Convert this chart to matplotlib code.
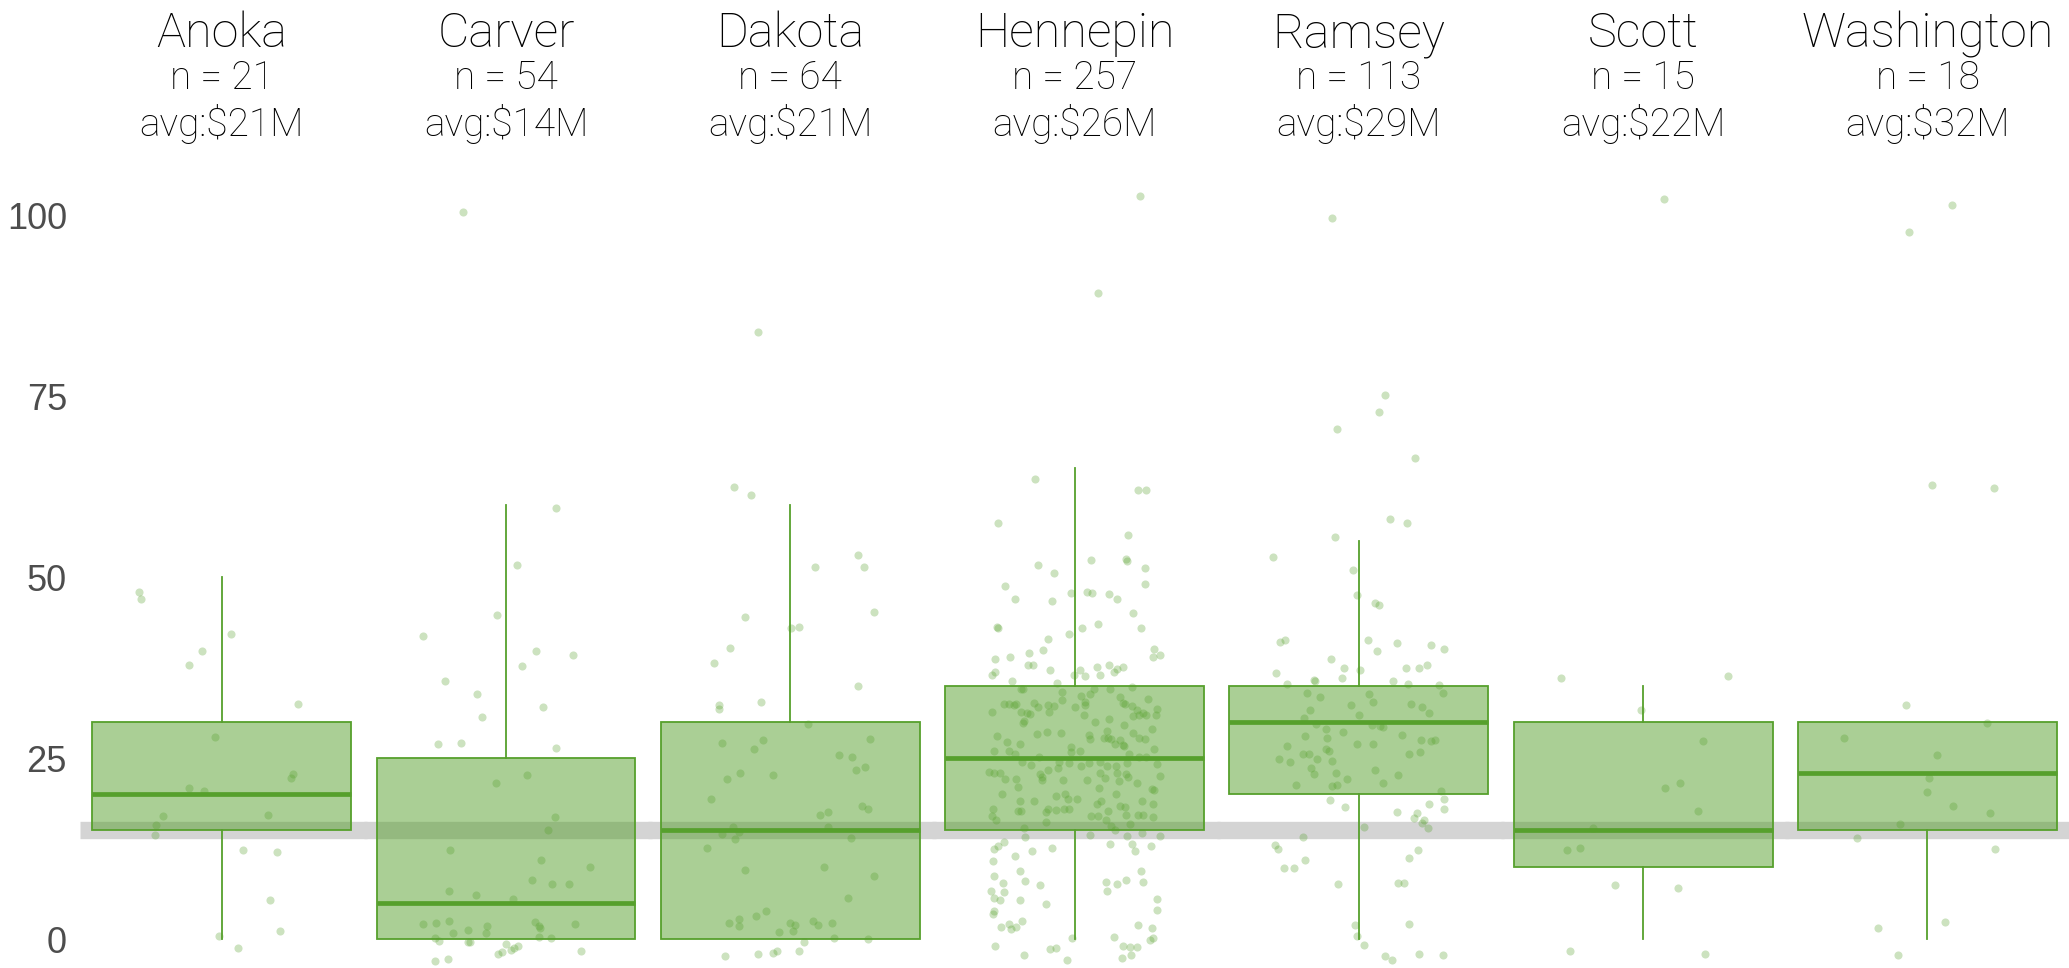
import numpy as np
import matplotlib
matplotlib.use("Agg")
import matplotlib.pyplot as plt
from matplotlib.transforms import blended_transform_factory

# ---------------- data ----------------
counties = ['Anoka', 'Carver', 'Dakota', 'Hennepin', 'Ramsey', 'Scott', 'Washington']
n_obs = [21, 54, 64, 257, 113, 15, 18]
avg_m = [21, 14, 21, 26, 29, 22, 32]

whislo = [0, 0, 0, 0, 0, 0, 0]
q1 = [15, 0, 0, 15, 20, 10, 15]
med = [20, 5, 15, 25, 30, 15, 23]
q3 = [30, 25, 30, 35, 35, 30, 30]
whishi = [50, 60, 60, 65, 55, 35, 30]

ref_line = 15

vals_anoka = [47.97, 46.96, 42.2, 39.8, 37.8, 32.5, 27.85, 22.8, 22.3, 20.86, 20.5, 17.0, 17.2, 15.75,
              14.4, 12.3, 12.06, 5.39, 1.15, 0.41, -1.24]
jit_anoka = [-0.318, -0.311, 0.036, -0.075, -0.125, 0.296, -0.026, 0.274, 0.268, -0.126, -0.07, -0.226,
             0.18, -0.254, -0.256, 0.082, 0.214, 0.186, 0.226, -0.009, 0.062]

vals_carver = [100.4, 59.6, 51.7, 44.7, 41.85, 39.8, 39.3, 37.75, 35.6, 33.9, 32.1, 30.7, 27.0, 27.1, 26.4,
               22.6, 21.6, 16.9, 15.0, 12.3, 10.9, 9.94, 8.15, 7.6, 7.64, 6.68, 6.08, 5.48, 2.03, 2.16, 2.53,
               1.84, 2.3, 1.84, 2.12, 0.87, 1.2, 0.87, 0.18, -0.32, -0.46, 0.23, 0.18, -0.69, -0.97, -1.47,
               -1.84, -2.03, -1.66, -3.04, -2.72, -0.4, -1.2, 1.5]
jit_carver = [-0.165, 0.193, 0.041, -0.036, -0.322, 0.117, 0.258, 0.063, -0.236, -0.11, 0.143, -0.093,
              -0.263, -0.174, 0.192, 0.082, -0.039, 0.191, 0.162, -0.218, 0.134, 0.325, 0.102, 0.177, 0.242,
              -0.222, -0.115, 0.026, -0.322, -0.271, -0.22, -0.073, 0.112, 0.128, 0.267, -0.204, -0.146,
              -0.079, -0.273, -0.259, -0.146, 0.126, 0.175, 0.0, 0.045, 0.018, -0.017, -0.03, 0.289, -0.276,
              -0.224, -0.14, 0.03, 0.13]

vals_dakota = [83.8, 62.5, 61.4, 53.0, 51.4, 51.4, 45.2, 44.5, 43.0, 43.1, 40.2, 38.1, 35.0, 32.3, 31.8,
               32.7, 29.7, 27.05, 26.3, 27.5, 27.6, 25.4, 25.2, 23.3, 23.8, 22.15, 23.0, 22.7, 19.4, 17.1,
               17.5, 18.4, 18.0, 15.5, 14.5, 13.8, 15.5, 14.0, 12.6, 9.6, 10.0, 8.7, 5.7, 3.9, 3.2, 2.2, 2.7,
               1.8, 2.2, 2.5, 1.9, 2.2, 1.0, 1.1, -0.35, 0.1, 0.0, -2.4, -2.1, -1.9, -1.6, -1.65, 14.8, 2.0]
jit_dakota = [-0.126, -0.216, -0.153, 0.26, 0.284, 0.095, 0.323, -0.175, 0.003, 0.035, -0.232, -0.294,
              0.262, -0.277, -0.277, -0.112, 0.07, -0.265, -0.14, -0.104, 0.309, 0.189, 0.24, 0.255, 0.29,
              -0.245, -0.195, -0.067, -0.305, 0.116, 0.146, 0.277, 0.299, -0.222, -0.263, -0.213, 0.147,
              0.236, -0.321, -0.173, 0.131, 0.325, 0.222, -0.093, -0.131, -0.236, -0.198, -0.2, -0.001,
              0.089, 0.108, 0.162, -0.043, 0.01, 0.052, 0.169, 0.3, -0.254, -0.124, -0.066, -0.052, 0.034,
              -0.2, 0.02]

vals_hennepin = [
    102.6, 89.3, 63.6, 62.0, 62.0, 57.5, 55.85, 52.4, 52.5, 52.2, 51.7, 50.6, 51.2, 49.1, 48.7, 46.9, 46.7,
    47.8, 47.9, 47.8, 47.7, 46.9, 45.1, 43.1, 42.9, 43.0, 43.55, 42.9, 42.2, 41.4, 39.9, 38.7, 39.0, 39.5,
    40.0, 39.0, 39.2, 37.9, 37.8, 36.9, 36.5, 37.15, 37.15, 36.5, 36.4, 37.6, 36.5, 37.8, 37.3, 36.9, 37.6,
    35.6, 35.3, 34.85, 34.6, 34.5, 34.6, 34.1, 34.5, 33.9, 33.6, 33.4, 33.2,
    31.3, 32.4, 32.4, 32.3, 32.4, 31.35, 31.2, 31.1, 32.6, 32.0, 32.3, 31.3, 32.2, 32.1, 31.0, 32.3, 32.8,
    30.4, 32.6, 32.5, 32.2, 30.8, 31.6, 30.9, 31.2, 31.0, 31.0, 31.8,
    29.8, 30.1, 28.3, 28.6, 28.4, 28.2, 27.6, 27.8, 28.8, 27.8, 27.6, 27.0, 27.5, 29.6, 26.8, 26.7, 28.4,
    27.8, 27.6, 27.2, 27.0, 26.0, 26.0, 25.5, 26.5, 25.9, 26.2, 25.1, 25.1,
    24.4, 25.1, 24.5, 24.3, 23.9, 24.3, 24.5, 23.9, 23.9, 24.3, 24.2,
    23.1, 23.0, 23.0, 22.05, 22.05, 22.8, 22.4, 22.0, 23.4, 23.6, 22.0, 23.0, 22.3, 23.0, 21.8, 22.8, 22.4,
    21.5, 22.5, 20.8,
    20.1, 20.7, 20.6, 19.8, 19.98, 19.4, 19.3, 19.1, 19.1, 17.7, 17.7, 17.6, 17.9, 17.8, 17.9, 18.6, 19.1,
    17.7, 18.4, 18.2, 18.7, 18.0, 17.0, 16.4, 17.0, 17.0, 17.1, 17.2, 17.1, 16.8, 16.1,
    15.3, 15.65, 15.9, 15.1, 14.1, 14.4, 14.2, 14.6, 14.2,
    13.4, 12.9, 12.4, 12.2, 12.6, 11.5, 10.8, 13.1, 13.1, 12.1, 12.8,
    9.4, 8.75, 7.8, 8.06, 7.5, 7.9, 7.55, 8.2, 9.35, 7.9,
    6.6, 6.7, 5.6, 5.4, 6.5, 5.4, 4.9, 5.5, 4.0, 3.9, 3.5,
    1.7, 2.1, 1.4, 1.7, 2.5, 1.9, 1.5,
    0.3, 0.2, -0.2, 0.1, -0.9, -1.4, -1.2, -2.2, -2.9, -0.9, -1.06, -1.1, -2.6, -2.2,
    33.0, 30.0, 28.0, 26.0, 24.0, 22.0, 20.0, 18.0, 16.5, 29.0, 21.0, 19.0, 25.5]
jit_hennepin = [
    0.254, 0.091, -0.152, 0.247, 0.276, -0.294, 0.206, 0.064, 0.2, 0.202, -0.143, -0.079, 0.272, 0.273,
    -0.268, -0.232, -0.086, -0.013, 0.049, 0.067, 0.134, 0.164, 0.227, -0.3, -0.296, 0.258, 0.089, 0.03,
    -0.023, -0.103, -0.122, -0.307, -0.249, -0.175, 0.307, 0.303, 0.332, -0.178, -0.162, -0.307, -0.32,
    -0.093, 0.021, -0.004, 0.039, 0.085, 0.099, 0.133, 0.164, 0.153, 0.188, -0.241, -0.066, 0.223, -0.201,
    -0.206, 0.077, -0.049, 0.137, 0.058, 0.024, 0.177, 0.282,
    -0.32, -0.274, -0.253, -0.233, -0.227, -0.206, -0.184, -0.174, -0.157, -0.142, -0.103, -0.097, -0.081,
    0.0, 0.035, 0.04, 0.04, 0.133, 0.186, 0.196, 0.222, 0.224, 0.241, 0.25, 0.263, 0.276, 0.314, 0.319,
    -0.2, -0.195, -0.144, -0.108, -0.053, 0.054, 0.061, 0.112, 0.125, 0.131, 0.142, 0.157, 0.174, 0.191,
    0.187, 0.192, 0.226, 0.25, 0.271, -0.262, -0.209, -0.312, -0.253, -0.229, -0.014, -0.013, 0.307, 0.25,
    0.276,
    -0.204, -0.137, -0.059, -0.021, 0.023, 0.054, 0.097, 0.126, 0.161, 0.202, 0.317,
    -0.329, -0.313, -0.29, -0.268, -0.227, -0.135, -0.124, -0.126, -0.101, -0.064, -0.046, 0.099, 0.116,
    0.166, 0.171, 0.2, 0.206, 0.241, 0.331, 0.093,
    0.159, 0.298, 0.306, -0.073, -0.035, -0.027, 0.008, -0.156, -0.209, -0.219, -0.206, -0.11, -0.103,
    -0.072, -0.021, 0.086, 0.102, 0.13, 0.174, 0.196, 0.304, -0.314, -0.32, -0.303, 0.063, 0.091, 0.198,
    0.244, 0.263, 0.304, -0.112,
    -0.197, 0.142, 0.215, 0.157, -0.193, 0.061, 0.202, 0.26, 0.331,
    -0.274, -0.294, -0.313, -0.165, -0.086, -0.231, -0.317, 0.138, 0.222, 0.232, 0.296,
    -0.209, -0.313, -0.277, -0.192, -0.133, 0.122, 0.164, 0.198, 0.255, 0.264,
    0.125, -0.322, -0.311, -0.29, -0.271, -0.211, -0.11, 0.318, 0.32, -0.312, -0.314,
    -0.285, -0.253, -0.244, -0.226, -0.204, 0.244, 0.299,
    0.153, 0.304, 0.29, -0.01, -0.309, -0.095, -0.072, -0.195, -0.028, 0.188, 0.214, 0.241, 0.182, 0.218,
    -0.05, 0.08, -0.3, 0.02, -0.17, 0.05, -0.28, -0.04, 0.12, 0.3, -0.22, 0.26, 0.21]

vals_ramsey = [99.6, 75.2, 72.8, 70.5, 66.4, 58.0, 57.5, 55.6, 52.8, 51.0,
               47.55, 46.4, 46.2, 41.0, 41.3, 41.35, 39.8, 40.9, 40.6, 40.0,
               38.7, 37.4, 37.1, 37.5, 37.5, 37.9, 36.7, 35.8, 35.2, 36.0,
               35.7, 35.2, 35.05, 34.0, 34.0, 33.5, 33.85, 32.3, 32.7, 32.4,
               32.0, 31.2, 31.7, 30.6, 29.7, 29.5, 29.4, 29.3, 29.0, 28.6,
               28.0, 27.8, 28.2, 27.55, 27.3, 27.55, 26.7, 27.0, 27.0, 26.3,
               26.0, 25.5, 25.6, 24.8, 24.9, 24.6, 25.5, 25.9, 24.4, 23.6,
               22.8, 22.9, 23.3, 22.7, 22.1, 21.25, 21.1, 21.25, 21.5, 20.4,
               19.3, 18.0, 19.2, 18.2, 17.5, 18.6, 17.4, 16.7, 16.5, 16.0,
               15.4, 15.5, 14.1, 13.0, 12.4, 10.9, 9.8, 9.8, 12.3, 11.2,
               7.55, 7.8, 7.76, 2.0, 2.1, 0.4, -0.8, -2.4, -2.9, -2.0,
               -2.2, 35.6, 31.0]
jit_ramsey = [-0.105, 0.1, 0.078, -0.083, 0.216, 0.121, 0.187, -0.092, -0.33, -0.024,
              -0.008, 0.064, 0.077, -0.303, -0.285, 0.037, 0.072, 0.148, 0.279, 0.33,
              -0.108, -0.058, 0.005, 0.181, 0.231, 0.264, -0.321, -0.172, -0.276, -0.067,
              0.132, 0.19, 0.309, 0.326, -0.199, -0.149, 0.04, -0.032, 0.055, 0.203,
              0.246, 0.272, -0.19, -0.213, -0.164, 0.05, 0.08, 0.092, -0.127, -0.062,
              -0.207, -0.122, 0.167, 0.24, 0.28, 0.295, -0.276, -0.006, 0.055, -0.128,
              -0.114, -0.216, -0.194, -0.309, -0.162, -0.103, 0.193, 0.236, -0.268, -0.184,
              -0.172, -0.087, 0.064, 0.151, -0.046, -0.244, -0.103, -0.086, 0.095, 0.317,
              0.329, 0.331, -0.11, -0.053, 0.148, 0.272, 0.225, 0.213, 0.25, 0.244,
              0.267, 0.018, -0.214, -0.323, -0.313, -0.208, -0.289, -0.252, 0.227, 0.195,
              -0.08, 0.15, 0.173, -0.015, 0.193, -0.006, 0.019, 0.1, 0.13, 0.231,
              0.326, -0.171, 0.0]

vals_scott = [102.2, 36.1, 36.3, 31.7, 27.4, 20.8, 21.5, 17.7, 15.4, 12.3, 12.6, 7.5, 7.0, -1.7, -2.0]
jit_scott = [0.081, -0.319, 0.329, -0.007, 0.23, 0.085, 0.141, 0.213, -0.195, -0.296, -0.244, -0.108,
             0.133, -0.281, 0.241]

vals_washington = [101.4, 97.7, 62.7, 62.3, 32.3, 27.8, 29.9, 25.4, 22.2, 20.3, 18.4, 17.4, 15.9, 14.0,
                   12.5, 1.5, 2.3, -2.2]
jit_washington = [0.095, -0.073, 0.018, 0.256, -0.084, -0.324, 0.229, 0.035, 0.006, 0.0, 0.097, 0.242,
                  -0.108, -0.274, 0.26, -0.192, 0.069, -0.112]

point_vals = [vals_anoka, vals_carver, vals_dakota, vals_hennepin, vals_ramsey, vals_scott, vals_washington]
point_jit = [jit_anoka, jit_carver, jit_dakota, jit_hennepin, jit_ramsey, jit_scott, jit_washington]

y_ticks = [0, 25, 50, 75, 100]

# ---------------- style ----------------
GREEN = '#56a02c'
BOX_W = 0.91
title_font = ['Roboto', 'DejaVu Sans']
tick_font = ['Liberation Sans Narrow', 'Liberation Sans', 'DejaVu Sans']

W, H = 2069, 968
fig = plt.figure(figsize=(W / 100, H / 100), dpi=100)

left_px = 79.5
panel_px = 284.3
ax_h = 0.8227

for i, name in enumerate(counties):
    ax = fig.add_axes([(left_px + i * panel_px) / W, 0.0, panel_px / W, ax_h])
    ax.set_facecolor('none')
    ax.set_xlim(-0.5, 0.5)
    ax.set_ylim(-4, 106)
    band_tr = blended_transform_factory(ax.transAxes, ax.transData)
    x_end = 1.0 if i == len(counties) - 1 else 1.012
    ax.plot([0, x_end], [ref_line, ref_line], transform=band_tr, color='#d4d4d4', lw=12.5,
            solid_capstyle='butt', zorder=0, clip_on=False)

    stats = [dict(whislo=whislo[i], q1=q1[i], med=med[i], q3=q3[i], whishi=whishi[i], fliers=[])]
    ax.bxp(stats, positions=[0], widths=BOX_W, patch_artist=True, showcaps=False,
           showfliers=False, manage_ticks=False,
           boxprops=dict(facecolor=(0.337, 0.627, 0.173, 0.5), edgecolor=GREEN, linewidth=1.3),
           medianprops=dict(color=GREEN, linewidth=3.4, solid_capstyle='butt'),
           whiskerprops=dict(color=GREEN, linewidth=1.3))

    ax.scatter(np.array(point_jit[i]) * BOX_W, point_vals[i], s=34, color=GREEN,
               alpha=0.3, linewidths=0, zorder=3)

    for s in ax.spines.values():
        s.set_visible(False)
    ax.set_xticks([])
    if i == 0:
        ax.set_yticks(y_ticks)
        ax.set_yticklabels([str(t) for t in y_ticks], family=tick_font)
        ax.tick_params(axis='y', length=0, pad=9, labelsize=26, labelcolor='#4d4d4d')
    else:
        ax.set_yticks([])

    tr = blended_transform_factory(ax.transAxes, fig.transFigure)
    ax.text(0.5, 1 - 47 / H, name, transform=tr, ha='center', va='baseline',
            fontsize=35, color='#000000', family=title_font, weight='light')
    ax.text(0.5, 1 - 89 / H, f'n = {n_obs[i]}', transform=tr, ha='center', va='baseline',
            fontsize=28, color='#000000', family=title_font, weight='light')
    ax.text(0.5, 1 - 136 / H, f'avg:${avg_m[i]}M', transform=tr, ha='center', va='baseline',
            fontsize=28, color='#000000', family=title_font, weight='light')

fig.savefig('out.png', dpi=100, facecolor='white')
